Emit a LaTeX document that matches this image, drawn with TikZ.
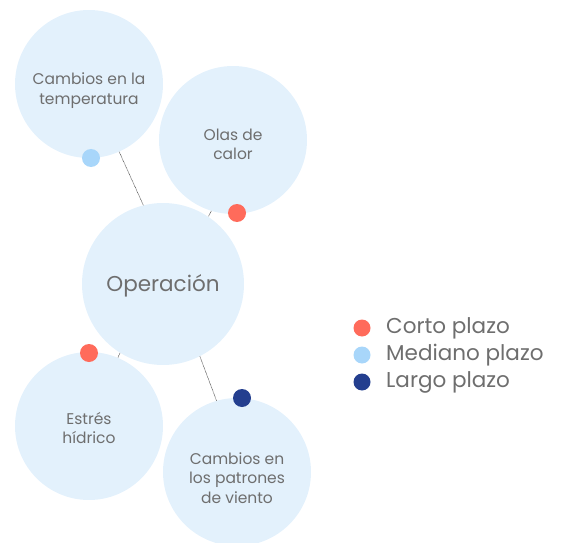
\documentclass[tikz,border=0pt]{standalone}
\usepackage{fontspec}
\setmainfont{Poppins}
\definecolor{bubble}{HTML}{E3F1FC}
\definecolor{txt}{HTML}{6E6E6E}
\definecolor{shortc}{HTML}{FF6B5B}
\definecolor{midc}{HTML}{A8D6FA}
\definecolor{longc}{HTML}{243F8F}
\begin{document}
\begin{tikzpicture}[x=1pt,y=1pt,
  bub/.style={circle,fill=bubble,inner sep=0pt,minimum size=148pt},
  btxt/.style={inner sep=0pt,text=txt,align=center,font=\fontsize{15.5}{19.5}\selectfont},
  dotm/.style={circle,inner sep=0pt,minimum size=18pt},
  legtxt/.style={anchor=west,inner sep=0pt,text=txt,font=\fontsize{21.5}{24}\selectfont},
  link/.style={line width=0.55pt,dash pattern=on 0.7pt off 0.6pt,draw=black!75}]
\useasboundingbox (0,0) rectangle (562,542);
\node[bub] (temp) at (89,458) {};
\node[bub] (olas) at (233,402) {};
\node[bub,minimum size=162pt] (op) at (163,258) {};
\node[bub] (estres) at (89,116) {};
\node[bub] (viento) at (237,70) {};
\node[btxt,yshift=-6.5pt] (tempt) at (temp.center) {Cambios en la\\temperatura};
\node[btxt,yshift=-4.5pt] (olast) at (olas.center) {Olas de\\calor};
\node[btxt,yshift=-2pt,font=\fontsize{21.5}{24}\selectfont] (opt) at (op.center) {Operación};
\node[btxt,yshift=-2pt] (estrest) at (estres.center) {Estrés\\hídrico};
\node[btxt,yshift=-6pt] (vientot) at (viento.center) {Cambios en\\los patrones\\de viento};
\draw[link] (temp.-66) -- (op.104);
\draw[link] (olas.253) -- (op.56);
\draw[link] (op.238) -- (estres.67);
\draw[link] (op.297) -- (viento.106);
\node[dotm,fill=midc] (d1) at (91,384) {};
\node[dotm,fill=shortc] (d2) at (237,329) {};
\node[dotm,fill=shortc] (d3) at (89,189) {};
\node[dotm,fill=longc] (d4) at (242,144) {};
\node[dotm,minimum size=17pt,fill=shortc] (l1) at (362,214) {};
\node[dotm,minimum size=17pt,fill=midc] (l2) at (362,187) {};
\node[dotm,minimum size=17pt,fill=longc] (l3) at (362,160) {};
\node[legtxt] (t1) at (386,214) {Corto plazo};
\node[legtxt] (t2) at (386,187) {Mediano plazo};
\node[legtxt] (t3) at (386,160) {Largo plazo};
\end{tikzpicture}
\end{document}
